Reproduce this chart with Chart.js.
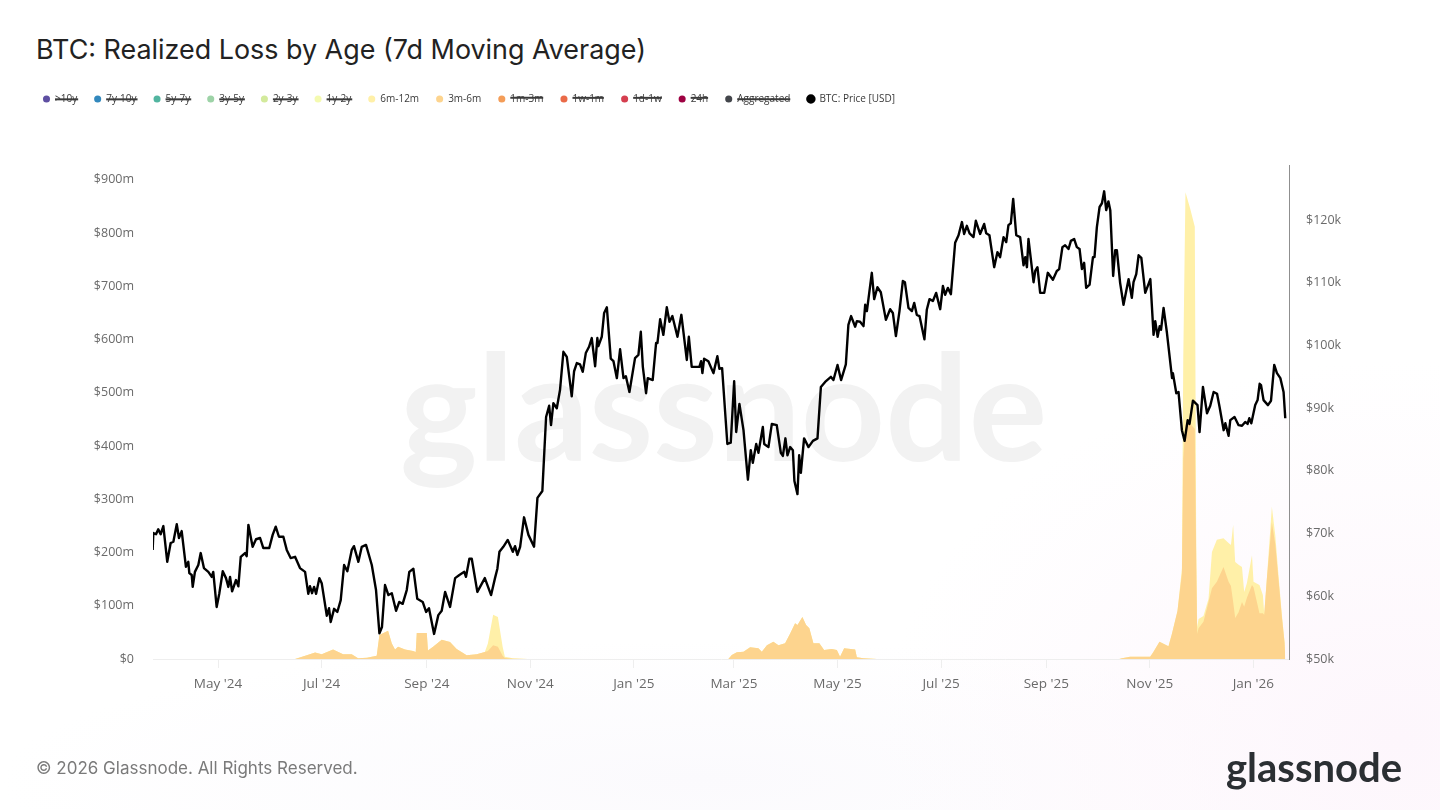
<!DOCTYPE html>
<html>
<head>
<meta charset="utf-8">
<title>BTC: Realized Loss by Age (7d Moving Average)</title>
<script src="https://cdn.jsdelivr.net/npm/chart.js@4"></script>
<style>
  html, body { margin: 0; padding: 0; width: 1440px; height: 810px; overflow: hidden; }
  body {
    position: relative;
    background:
      radial-gradient(ellipse 520px 380px at 1400px 740px, #fdf6fc 0%, rgba(253, 246, 252, 0) 100%),
      radial-gradient(ellipse 700px 140px at 700px 780px, #fbfafd 0%, rgba(251, 250, 253, 0) 100%),
      #fff;
    font-family: Inter, sans-serif;
  }
  #title { position: absolute; left: 36px; top: 32px; font-size: 26.9px; line-height: 34px; color: #222; white-space: nowrap; }
  #watermark { position: absolute; left: 400px; top: 304px; font-family: Lato, sans-serif; font-size: 147px; line-height: 200px; font-weight: 700; color: #f2f2f2; white-space: nowrap; }
  #copyright { position: absolute; left: 36px; top: 757px; font-size: 17px; line-height: 22px; color: #7a7a7a; white-space: nowrap; }
  #logo { position: absolute; left: 1226px; top: 742px; font-family: Lato, sans-serif; font-size: 40px; line-height: 50px; font-weight: 700; color: #2b2f33; white-space: nowrap; }
  canvas { position: absolute; left: 0; top: 0; }
</style>
</head>
<body>
<div id="watermark">glassnode</div>
<div id="title">BTC: Realized Loss by Age (7d Moving Average)</div>
<canvas id="chart" width="1440" height="810"></canvas>
<div id="copyright">© 2026 Glassnode. All Rights Reserved.</div>
<div id="logo">glassnode</div>
<script>
// x values are days counted from 1 May 2024
const monthTickDays = [0, 61, 123, 184, 245, 304, 365, 426, 488, 549, 610];
const monthTickLabels = ["May '24", "Jul '24", "Sep '24", "Nov '24", "Jan '25", "Mar '25", "May '25", "Jul '25", "Sep '25", "Nov '25", "Jan '26"];

const cohortNames = ['>10y', '7y-10y', '5y-7y', '3y-5y', '2y-3y', '1y-2y', '6m-12m', '3m-6m', '1m-3m', '1w-1m', '1d-1w', '24h', 'Aggregated'];
const cohortColors = ['#5e4fa2', '#3288bd', '#52b5a0', '#9dd3a7', '#d3ea9c', '#f4fab0', '#fff0a8', '#fdd48e', '#f49d58', '#ea6a48', '#d53e4f', '#9e0142', '#43464b'];

const priceDays = [
  -38.5, -38.1, -36.5, -35.2, -33.8, -32.2, -29.9, -27.9, -26.3, -24.3, -23, -21.4, -18.9, -17.5, -16.9, -15.5, -14.9, -13.6, -11.6, -10.2,
  -8.3, -5.7, -3.7, -2.8, -0.8, 0.8, 2.8, 4.7, 6.1, 7.1, 8.3, 10.6, 12, 13.4, 15.9, 16.9, 17.9, 20.4, 22.4, 24.8,
  26.7, 30.2, 32.2, 34, 35.9, 38.5, 40.5, 42.8, 45.4, 48.3, 51.3, 53.2, 54.2, 55.4, 56.6, 57.8, 59.7, 61.1, 64.1, 65.4,
  66.4, 68.4, 70.3, 72.3, 74.3, 76.2, 78.8, 80.1, 82.7, 84.7, 87.2, 90.6, 93.1, 95.1, 96.6, 98.4, 100.4, 102.4, 104.9, 106.8,
  108.8, 111.2, 112.7, 115.1, 117.4, 120.6, 122.6, 124.3, 127.3, 129.8, 131.8, 133.8, 136.7, 139.7, 142.2, 145.1, 146.1, 148.1, 149.5, 152.8,
  157.2, 160.9, 163.2, 164.6, 165.8, 168.1, 170.7, 173.7, 175, 176.4, 178, 180.3, 182.9, 186.2, 188.2, 191.1, 192.3, 193.3, 195.1, 196.2,
  197.6, 199.6, 201.5, 203.5, 205.5, 208.4, 209.8, 211.4, 213.3, 214.9, 216.7, 218.6, 220.2, 222.2, 223.5, 224.1, 226.1, 227.5, 229.1, 231.4,
  233, 235, 236.9, 238.9, 240.3, 242.4, 245.7, 247.7, 249.1, 250.3, 252.2, 253.2, 256.1, 258.1, 258.9, 260.5, 262.4, 264.4, 266, 267.7,
  270.7, 273, 276.2, 277.4, 279.1, 283.6, 284.6, 285.4, 286.4, 288.9, 291.9, 294.2, 295.4, 297, 300.1, 302.1, 304.1, 305.3, 307.2, 309.6,
  312.2, 313.9, 315.1, 317.1, 318.4, 321, 321.8, 324.3, 326.3, 329.2, 331.6, 332.8, 334.3, 335.5, 337.1, 338.7, 339.6, 341.4, 342.4, 343.4,
  345.3, 347.9, 350.5, 353.2, 355.2, 357.7, 361.1, 362.6, 365, 367.1, 369.9, 371.4, 373, 375.4, 376.4, 378.3, 380.3, 381.3, 382.3, 385.2,
  386.6, 388.5, 390.5, 393.5, 396, 397.6, 399.4, 401.5, 403.5, 404.7, 406.8, 408.8, 410.2, 411.7, 413.3, 416.2, 417.6, 419.2, 421.2, 423.1,
  425.5, 427.1, 428.4, 430, 431.8, 434.3, 436.3, 438.3, 439.6, 441.2, 442.8, 445.1, 446.5, 449, 451.4, 452.6, 454.5, 457.3, 459.2, 460.8,
  462.8, 464.4, 465.7, 467.1, 468.5, 470.3, 472.6, 474.6, 475.6, 476.6, 477.5, 480.5, 481.5, 482.8, 484.4, 486.8, 488.9, 491.9, 494.2, 495.6,
  497.5, 499.1, 501.1, 502.5, 504.4, 506, 507.6, 509, 510.3, 511.5, 513.5, 515.5, 516.4, 517.8, 519.4, 520.8, 522.1, 523.3, 524.6, 525.7,
  527.4, 528.6, 529.6, 531.5, 533.5, 536.5, 538.4, 539.4, 541, 542.4, 544, 546.3, 549.3, 551.2, 552.2, 553.6, 554.8, 555.6, 557.1, 559.1,
  562.1, 562.6, 564.6, 565.9, 567.9, 569.5, 571.3, 572.4, 574.4, 577.1, 578.3, 580.3, 582.7, 584.6, 586.6, 588.6, 590.1, 592.5, 593.5, 595.4,
  596.4, 598.9, 601.3, 603.3, 605.2, 606.6, 607.6, 608.8, 611.1, 612.5, 613.7, 614.5, 616, 618.6, 620.4, 622.3, 623.9, 625.9, 627.8, 628.8
];
// BTC price in thousands of USD
const priceValues = [
  67.4, 70.1, 69.9, 70.7, 69.9, 71.2, 65.5, 68.5, 68.7, 71.5, 69.3, 70.4, 64.7, 65.5, 63.7, 63.4, 61.5, 63.9, 65, 66.9,
  64.5, 63.9, 63.1, 63.9, 58.3, 60.5, 64, 62.9, 61.5, 63.1, 60.8, 62.6, 61.6, 66.3, 66.9, 66.4, 71.4, 67.9, 69.1, 69.3,
  67.7, 67.7, 69.8, 71.1, 69.5, 69.5, 67.4, 66.1, 66.3, 64.5, 63.9, 60.4, 61.6, 60.5, 61.5, 60.4, 62.9, 62.1, 56.9, 58.1,
  55.9, 58, 57.5, 59.4, 65, 64, 67.4, 68, 65.5, 67.9, 68.2, 65, 61, 54.1, 55.1, 61.8, 60.2, 60.5, 57.7, 59.1,
  58.8, 61, 63.9, 64.4, 59.6, 59.1, 57.5, 58.1, 54, 57, 57.7, 60.7, 58.3, 62.9, 63.4, 63.9, 63.1, 66, 66, 60.7,
  62.9, 60.2, 62.9, 64.4, 67.1, 67.9, 69, 67.1, 68, 66.6, 67.9, 72.6, 69.8, 67.9, 75.7, 76.8, 83.3, 88.6, 90.4, 87.3,
  90.8, 90, 92.9, 99, 98.2, 91.9, 95.9, 97.2, 97, 95.8, 98.8, 99.8, 101.2, 96.7, 101.2, 99.9, 101.4, 105.2, 106.1, 97.9,
  97.5, 94.8, 99.4, 94.8, 95.1, 92.6, 98, 98.5, 102.2, 96.6, 92.4, 94.8, 94.5, 100.4, 100.4, 104.2, 101.7, 106.1, 103.8, 104.7,
  101.4, 104.9, 97.7, 101.4, 96.6, 96.6, 97.5, 95.6, 97.9, 97.5, 95.6, 98.3, 96.3, 96.4, 84.3, 84.5, 94.3, 86.2, 90.7, 86.5,
  78.6, 83.3, 81.3, 84.3, 82.9, 87, 84.3, 83.8, 87.5, 87.3, 82.9, 82.4, 85.2, 82.5, 83.8, 83.3, 78.4, 76.3, 82.5, 79.7,
  85.2, 83.8, 84.8, 85.2, 93.4, 94.2, 95, 94.5, 96.9, 94.5, 97, 103.3, 104.7, 103, 103.9, 103.8, 103.1, 106.5, 105.5, 111.6,
  107.4, 109.3, 108.5, 104.1, 105.8, 105.2, 101.5, 105.5, 110.3, 110.1, 106, 105.5, 106.8, 104.9, 104.7, 101, 105.7, 107.4, 107.1, 108.4,
  105.8, 109.5, 108.1, 109.2, 108.2, 116.4, 117.6, 119.7, 117.8, 119.1, 117.9, 117.3, 119.9, 117.8, 119.4, 117.9, 117.6, 112.5, 114.9, 114.1,
  117.3, 116.5, 119.2, 119.5, 123.4, 117.6, 117.3, 112.8, 114.1, 112.5, 117, 110.1, 111.9, 112.5, 108.4, 108.4, 111.6, 110.5, 111.9, 112.2,
  115.7, 116, 115.4, 116.7, 117, 115.7, 115.4, 112.2, 113.2, 109.2, 109.7, 114.1, 114.1, 118.9, 122.1, 122.7, 124.6, 121.6, 123, 121.6,
  111.1, 115.2, 115.2, 110, 106.5, 110.6, 107.6, 110.1, 111.4, 114.4, 114, 108.4, 110.6, 101.7, 103.9, 101.4, 103.1, 102.5, 106, 102,
  94.8, 95.6, 92.4, 92.6, 86.5, 84.8, 88.1, 87.5, 91.2, 90.5, 86.2, 93.4, 89.2, 90.4, 92.6, 92.3, 90.2, 86.5, 87.6, 85.6,
  88.1, 88.6, 87.3, 87.2, 87.8, 87.5, 88.4, 87.6, 90.5, 91.3, 93.9, 93.7, 91.3, 90.5, 91.2, 96.9, 95.6, 94.8, 92.6, 88.4
];

const lossDays = [
  -38.5, 45.4, 52.3, 57.2, 61.1, 67.8, 73.7, 78.8, 82.5, 87.8, 93.5, 95.1, 100.2, 102.4, 104.3, 106.1, 110.2, 114.9, 116.5, 117.1,
  123, 123.7, 126.7, 131.8, 136.7, 140.6, 146.5, 152.4, 157.2, 159, 162.1, 164.9, 167.7, 169, 173.7, 182.6,
  300.7, 302.7, 305.7, 309.6, 313.5, 318.4, 320.4, 323.4, 327.2, 330.2, 334.1, 337.1, 340, 341.4, 344.3, 346.5, 348.4, 350.8, 354.3, 357.1,
  361.6, 364.6, 366.5, 368.9, 375.4, 376.4, 380.3, 388.2,
  531, 532.6, 537.4, 549.2, 551, 554.7, 560, 562, 565.3, 567.9, 568.7, 570, 572.8, 575.5, 576.3, 576.9, 577.7, 580.6, 583.6, 585.6,
  588.5, 592.4, 595.4, 596.8, 598.1, 599.3, 601.3, 603.3, 604.6, 606.2, 609.2, 610.1, 613.6, 615.6, 616.4, 618, 620.9, 622.9, 624.8, 626.8,
  628.4, 628.8
];
// realized loss in millions of USD
const loss3m6m = [
  0, 0, 7, 12, 9, 18, 9, 9, 1.3, 2.4, 6, 45, 53, 29, 18, 23, 18, 15, 13, 49,
  49, 16, 23, 36, 32, 19, 7, 9, 13, 15, 26, 23, 6, 2, 0.6, 0,
  0, 7.5, 12.6, 13.7, 22, 20, 13.7, 26, 32.5, 26, 29.5, 48, 67, 64, 79, 64, 58, 29.5, 29.5, 17,
  19, 17, 4.3, 20, 18, 3.2, 1.3, 0,
  0, 1.3, 4.3, 4.3, 12.6, 32.5, 24, 47, 90, 160, 376, 440, 442, 432, 188, 47, 58, 70, 107, 133,
  145, 173, 145, 137, 107, 77, 88, 107, 98, 115, 139, 135, 86, 86, 83, 152, 257, 216, 150, 79,
  30, 0
];
const loss6m12m = [
  0, 0, 0, 0, 0, 0, 0, 0, 0, 0, 0, 0, 0, 0, 0, 0, 0, 0, 0, 0,
  0, 0, 0, 0, 0, 0, 0, 0, 0, 14, 57, 56, 17, 2, 0.7, 0,
  0, 0, 0, 0, 0, 0, 0, 0, 0, 0, 0, 0, 0, 0, 0, 0, 0, 0, 0, 0,
  0, 0, 0, 0, 0, 0, 0, 0,
  0, 0, 0, 0, 0, 0, 0, 0, 0, 9, 188, 437, 404, 380, 56, 13, 17, 11, 6, 68,
  79, 54, 73, 77, 145, 105, 89, 66, 28, 28, 56, 10, 53, 34, 3, 2, 29, 17, 8, 4,
  2, 0
];

const tickColor = '#6a6a6a';
const yTickFont = { family: "'Open Sans', sans-serif", size: 12.5 };
const xTickFont = { family: "'Open Sans', sans-serif", size: 13.5 };

function toPoints(days, values) {
  return days.map((d, i) => ({ x: d, y: values[i] }));
}

function cohortDataset(name, i) {
  const base = {
    label: name,
    backgroundColor: cohortColors[i],
    borderColor: cohortColors[i],
    xAxisID: 'x',
    yAxisID: 'yLoss',
    pointRadius: 0,
    borderWidth: 0,
    fill: 'origin',
    data: [],
  };
  if (name === '3m-6m') return { ...base, order: 1, data: toPoints(lossDays, loss3m6m) };
  if (name === '6m-12m') return { ...base, order: 2, data: toPoints(lossDays, loss6m12m) };
  return { ...base, hidden: true, order: 3 };
}

const datasets = cohortNames.map(cohortDataset);
datasets.push({
  label: 'BTC: Price [USD]',
  backgroundColor: '#000',
  borderColor: '#000',
  xAxisID: 'x',
  yAxisID: 'yPrice',
  order: 0,
  pointRadius: 0,
  borderWidth: 2.4,
  borderJoinStyle: 'round',
  fill: false,
  data: toPoints(priceDays, priceValues),
});

new Chart(document.getElementById('chart'), {
  type: 'line',
  data: { datasets },
  options: {
    responsive: false,
    animation: false,
    layout: { padding: { left: 26, top: 77, right: 0, bottom: 0 } },
    plugins: {
      tooltip: { enabled: false },
      legend: {
        position: 'top',
        align: 'start',
        labels: {
          usePointStyle: true,
          pointStyle: 'circle',
          boxHeight: 5,
          boxWidth: 7,
          padding: 17,
          color: '#3a3a3a',
          font: { family: "'Open Sans', sans-serif", size: 10 },
          sort: (a, b) => a.datasetIndex - b.datasetIndex,
        },
      },
    },
    scales: {
      // empty top band between the legend and the plot
      gap: {
        type: 'linear',
        axis: 'x',
        position: 'top',
        grid: { display: false },
        border: { display: false },
        ticks: { display: false },
        afterFit: (s) => { s.height = 51; },
      },
      x: {
        type: 'linear',
        position: 'bottom',
        min: -38.3,
        max: 631,
        afterBuildTicks: (s) => { s.ticks = monthTickDays.map((v) => ({ value: v })); },
        afterFit: (s) => { s.height = 151; },
        grid: { display: true, drawOnChartArea: false, color: '#eeeeee', tickLength: 9 },
        border: { display: true, color: '#eeeeee' },
        ticks: {
          autoSkip: false,
          maxRotation: 0,
          padding: 8,
          color: tickColor,
          font: xTickFont,
          callback: (v) => monthTickLabels[monthTickDays.indexOf(v)],
        },
      },
      yLoss: {
        position: 'left',
        stacked: true,
        min: 0,
        max: 928,
        afterFit: (s) => { s.width = 127; },
        grid: { display: false },
        border: { display: false },
        ticks: {
          stepSize: 100,
          includeBounds: false,
          padding: 11,
          color: tickColor,
          font: yTickFont,
          callback: (v) => (v === 0 ? '$0' : '$' + v + 'm'),
        },
      },
      yPrice: {
        position: 'right',
        min: 50,
        max: 128.8,
        afterFit: (s) => { s.width = 151; },
        grid: { display: false },
        border: { display: true, color: '#8f8f8f', width: 1 },
        ticks: {
          stepSize: 10,
          includeBounds: false,
          padding: 9,
          color: tickColor,
          font: yTickFont,
          callback: (v) => '$' + v + 'k',
        },
      },
    },
  },
});
</script>
</body>
</html>
